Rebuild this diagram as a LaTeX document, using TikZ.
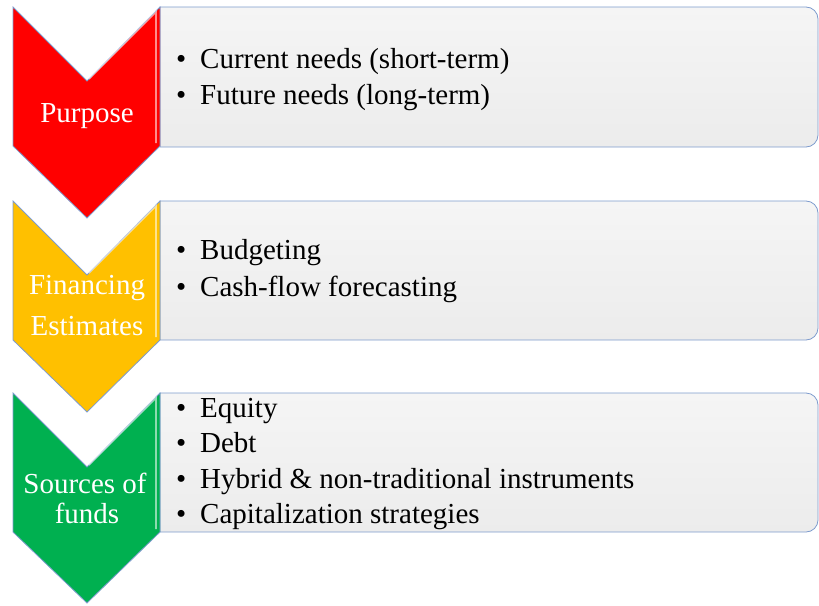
\documentclass[tikz,border=0pt]{standalone}
\usepackage{fontspec}
\setmainfont{Liberation Serif}
\definecolor{edgeblue}{RGB}{125,155,205}
\definecolor{cred}{RGB}{255,0,0}
\definecolor{cyel}{RGB}{255,192,0}
\definecolor{cgrn}{RGB}{0,176,80}
\definecolor{boxtop}{RGB}{245,245,245}
\definecolor{boxbot}{RGB}{236,236,236}
\tikzset{
  chev/.style={draw=edgeblue, line width=0.8pt, line join=miter},
  listbox/.style={draw=edgeblue, line width=0.8pt, top color=boxtop, bottom color=boxbot},
  chevtext/.style={text=white, font=\fontsize{29}{32}\selectfont, inner sep=0pt, anchor=base},
  itemtext/.style={text=black, font=\fontsize{29}{32}\selectfont, inner sep=0pt, anchor=base west},
  bevel/.style={white, opacity=0.55, line width=1.6pt}
}
\newcommand{\bul}[1]{\makebox[24pt][l]{\textbullet}#1}
\begin{document}
\begin{tikzpicture}[x=1pt,y=-1pt]
\useasboundingbox (0,0) rectangle (819,605);
% boxes
\foreach \t/\b in {7/147,201/340,393/532}{
  \path[listbox] (160,\t) -- (806,\t) arc[start angle=-90,end angle=0,radius=12]
    -- (818,\b-12) arc[start angle=0,end angle=90,radius=12] -- (160,\b) -- cycle;
}
% chevrons
\path[chev, fill=cred] (13,7) -- (87,81) -- (160,7) -- (160,146) -- (87,218) -- (13,146) -- cycle;
\path[chev, fill=cyel] (13,201) -- (87,275) -- (160,201) -- (160,340) -- (87,412) -- (13,340) -- cycle;
\path[chev, fill=cgrn] (13,393) -- (87,467) -- (160,393) -- (160,532) -- (87,603) -- (13,532) -- cycle;
\draw[bevel] (89,79) -- (156,12) -- (156,143);
\draw[bevel] (89,273) -- (156,206) -- (156,337);
\draw[bevel] (89,465) -- (156,398) -- (156,529);
% chevron labels
\node[chevtext] (l1) at (87,122) {Purpose};
\node[chevtext] (l2a) at (87,294) {Financing};
\node[chevtext] (l2b) at (87,335) {Estimates};
\node[chevtext] (l3a) at (85,493) {Sources of};
\node[chevtext] (l3b) at (87,523) {funds};
% items
\node[itemtext] (i11) at (176,68) {\bul{Current needs (short-term)}};
\node[itemtext] (i12) at (176,104) {\bul{Future needs (long-term)}};
\node[itemtext] (i21) at (176,259) {\bul{Budgeting}};
\node[itemtext] (i22) at (176,296) {\bul{Cash-flow forecasting}};
\node[itemtext] (i31) at (176,417) {\bul{Equity}};
\node[itemtext] (i32) at (176,452) {\bul{Debt}};
\node[itemtext] (i33) at (176,488) {\bul{Hybrid \& non-traditional instruments}};
\node[itemtext] (i34) at (176,523) {\bul{Capitalization strategies}};
\end{tikzpicture}
\end{document}
